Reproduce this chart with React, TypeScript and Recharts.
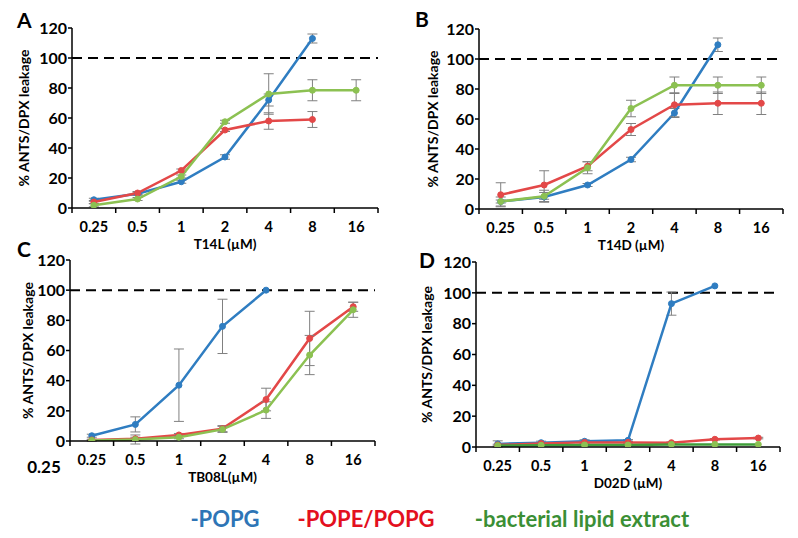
import { LineChart, Line, XAxis, YAxis, ErrorBar, ReferenceLine } from "recharts";

const doses = ["0.25", "0.5", "1", "2", "4", "8", "16"];
const yTicks = [0, 20, 40, 60, 80, 100, 120];

// A: T14L
const t14lPopg = [5.5, 9.5, 17.5, 34, 72, 113, null];
const t14lPopgErr = [1, 1, 1, 1.5, 4, 3, null];
const t14lPope = [4, 10, 25, 52, 58, 59, null];
const t14lPopeErr = [1, 1, 1, 1, 5.5, 5.3, null];
const t14lBac = [1.8, 6, 21, 57.5, 76, 78.5, 78.5];
const t14lBacErr = [1, 1, 1, 1, 13.5, 7, 7];

// B: T14D
const t14dPopg = [5, 8, 16, 33, 64, 109.5, null];
const t14dPopgErr = [1, 3, 1, 1.5, 3, 4.5, null];
const t14dPope = [9.5, 16, 28.5, 53, 69.5, 70.5, 70.5];
const t14dPopeErr = [8, 9.5, 3, 4, 8, 7.5, 7.5];
const t14dBac = [5, 8.5, 27.5, 67, 82.5, 82.5, 82.5];
const t14dBacErr = [3, 4, 4, 5.5, 5.5, 5.5, 5.5];

// C: TB08L
const tb08lPopg = [3.5, 11, 37, 76, 100, null, null];
const tb08lPopgErr = [1, 5, 24, 18, null, null, null];
const tb08lPope = [0.7, 1.5, 4, 8.2, 27.5, 68, 89];
const tb08lPopeErr = [0.5, 1, 1, 2, 7.5, 18, 3];
const tb08lBac = [0.4, 1, 2.5, 7.7, 20.5, 57, 87];
const tb08lBacErr = [0.5, 3, 1, 2, 5.5, 13, 5];

// D: D02D
const d02dPopg = [2, 2.8, 3.7, 4.3, 93, 104.5, null];
const d02dPopgErr = [2, 1, 1, 0.5, 7.5, null, null];
const d02dPope = [1.3, 2.2, 3, 3, 2.8, 5, 5.8];
const d02dPopeErr = [0.5, 0.5, 0.5, 0.5, 0.5, 0.5, 0.5];
const d02dBac = [0.9, 1.1, 1.3, 1.3, 1.7, 1.7, 1.7];
const d02dBacErr = [null, null, null, null, null, null, null];

const BLUE = "#2f7dc1";
const RED = "#e34848";
const GREEN = "#8cc152";
const ERR = "#808080";
const FONT = "Lato, 'Open Sans', sans-serif";

const panels = [
  {
    letter: "A", title: "T14L (µM)",
    popg: t14lPopg, popgErr: t14lPopgErr, pope: t14lPope, popeErr: t14lPopeErr, bac: t14lBac, bacErr: t14lBacErr,
    box: { x: 0, y: 0, w: 400, h: 256 }, plot: { l: 72, t: 28, r: 378, b: 208 }, yLabelX: 23, bacLine: GREEN,
  },
  {
    letter: "B", title: "T14D (µM)",
    popg: t14dPopg, popgErr: t14dPopgErr, pope: t14dPope, popeErr: t14dPopeErr, bac: t14dBac, bacErr: t14dBacErr,
    box: { x: 400, y: 0, w: 398, h: 256 }, plot: { l: 479, t: 29, r: 783, b: 209 }, yLabelX: 432, bacLine: GREEN,
  },
  {
    letter: "C", title: "TB08L(µM)",
    popg: tb08lPopg, popgErr: tb08lPopgErr, pope: tb08lPope, popeErr: tb08lPopeErr, bac: tb08lBac, bacErr: tb08lBacErr,
    box: { x: 0, y: 250, w: 400, h: 240 }, plot: { l: 70, t: 260, r: 375, b: 441 }, yLabelX: 27, bacLine: GREEN,
  },
  {
    letter: "D", title: "D02D (µM)",
    popg: d02dPopg, popgErr: d02dPopgErr, pope: d02dPope, popeErr: d02dPopeErr, bac: d02dBac, bacErr: d02dBacErr,
    box: { x: 400, y: 250, w: 398, h: 245 }, plot: { l: 476, t: 262, r: 780, b: 447 }, yLabelX: 426, bacLine: "#3f9e3a",
  },
];

function XTick(props: any) {
  const { x, y, payload, index, bw, count } = props;
  return (
    <g>
      <line x1={x - bw / 2} x2={x - bw / 2} y1={y} y2={y + 5} stroke="#000" strokeWidth={1.5} />
      {index === count - 1 && (
        <line x1={x + bw / 2} x2={x + bw / 2} y1={y} y2={y + 5} stroke="#000" strokeWidth={1.5} />
      )}
      <text x={x} y={y + 24} textAnchor="middle" fontFamily={FONT} fontWeight={700} fontSize={14.5} fill="#000">
        {payload.value}
      </text>
    </g>
  );
}

function Panel({ p }: { p: (typeof panels)[number] }) {
  const { box, plot } = p;
  const rows = doses.map((d, i) => ({
    dose: d,
    popg: p.popg[i], popgErr: p.popgErr[i],
    pope: p.pope[i], popeErr: p.popeErr[i],
    bac: p.bac[i], bacErr: p.bacErr[i],
  }));
  const bw = (plot.r - plot.l) / doses.length;
  const top = plot.t - box.y;
  const bottom = plot.b - box.y;
  const errProps = { width: 5, strokeWidth: 1, stroke: ERR, direction: "y" as const, isAnimationActive: false };

  return (
    <div style={{ position: "absolute", left: box.x, top: box.y }}>
      <LineChart
        width={box.w}
        height={box.h}
        data={rows}
        margin={{ top, right: box.x + box.w - plot.r, bottom: 0, left: 0 }}
      >
        <XAxis
          dataKey="dose"
          height={box.h - bottom}
          padding={{ left: bw / 2, right: bw / 2 }}
          interval={0}
          tickSize={0}
          tickMargin={0}
          tickLine={false}
          axisLine={{ stroke: "#000", strokeWidth: 1.5 }}
          tick={(t: any) => <XTick {...t} bw={bw} count={doses.length} />}
          label={{
            content: (lp: any) => {
              const vb = lp.viewBox;
              return (
                <text x={vb.x + vb.width / 2} y={vb.y + 41} textAnchor="middle" fontFamily={FONT}
                  fontWeight={700} fontSize={13.5} fill="#000">
                  {p.title}
                </text>
              );
            },
          }}
        />
        <YAxis
          width={plot.l - box.x}
          domain={[0, 120]}
          ticks={yTicks}
          allowDataOverflow
          tickSize={4}
          tickMargin={1}
          tickLine={{ stroke: "#000", strokeWidth: 1.5 }}
          axisLine={{ stroke: "#000", strokeWidth: 1.5 }}
          tick={{ fill: "#000", fontSize: 16, fontWeight: 700, fontFamily: FONT }}
          label={{
            content: () => {
              const cx = p.yLabelX - box.x;
              const cy = (top + bottom) / 2;
              return (
                <text transform={`translate(${cx},${cy}) rotate(-90)`} textAnchor="middle"
                  dominantBaseline="central" fontFamily={FONT} fontWeight={700} fontSize={14} fill="#000">
                  % ANTS/DPX leakage
                </text>
              );
            },
          }}
        />
        <ReferenceLine y={100} stroke="#000" strokeWidth={2} strokeDasharray="10 6" />
        <Line dataKey="popg" stroke={BLUE} strokeWidth={2.5} isAnimationActive={false}
          dot={{ r: 3, fill: BLUE, stroke: BLUE, strokeWidth: 1 }}>
          <ErrorBar dataKey="popgErr" {...errProps} />
        </Line>
        <Line dataKey="pope" stroke={RED} strokeWidth={2.5} isAnimationActive={false}
          dot={{ r: 3, fill: RED, stroke: RED, strokeWidth: 1 }}>
          <ErrorBar dataKey="popeErr" {...errProps} />
        </Line>
        <Line dataKey="bac" stroke={p.bacLine} strokeWidth={2.5} isAnimationActive={false}
          dot={{ r: 3, fill: GREEN, stroke: GREEN, strokeWidth: 1 }}>
          <ErrorBar dataKey="bacErr" {...errProps} />
        </Line>
      </LineChart>
    </div>
  );
}

const legendItems = [
  { text: "-POPG", color: "#2e75b6", cx: 225 },
  { text: "-POPE/POPG", color: "#e3101e", cx: 366 },
  { text: "-bacterial lipid extract", color: "#3b8f35", cx: 582 },
];

const letterPos = [
  { letter: "A", x: 17, y: 28 },
  { letter: "B", x: 415, y: 27 },
  { letter: "C", x: 17, y: 257 },
  { letter: "D", x: 419, y: 268 },
];

export default function App() {
  return (
    <div style={{ position: "absolute", left: 0, top: 0, width: 798, height: 538, background: "#fff", overflow: "hidden" }}>
      {panels.map((p) => (
        <Panel key={p.letter} p={p} />
      ))}
      <svg width={798} height={538} style={{ position: "absolute", left: 0, top: 0, pointerEvents: "none" }}>
        {letterPos.map((l) => (
          <text key={l.letter} x={l.x} y={l.y} fontFamily={FONT} fontWeight={700} fontSize={21} fill="#000">
            {l.letter}
          </text>
        ))}
        <text x={44} y={473} textAnchor="middle" fontFamily={FONT} fontWeight={700} fontSize={17} fill="#000">
          0.25
        </text>
        {legendItems.map((it) => (
          <text key={it.text} x={it.cx} y={527} textAnchor="middle" fontFamily={FONT} fontWeight={700}
            fontSize={22} fill={it.color}>
            {it.text}
          </text>
        ))}
      </svg>
    </div>
  );
}
